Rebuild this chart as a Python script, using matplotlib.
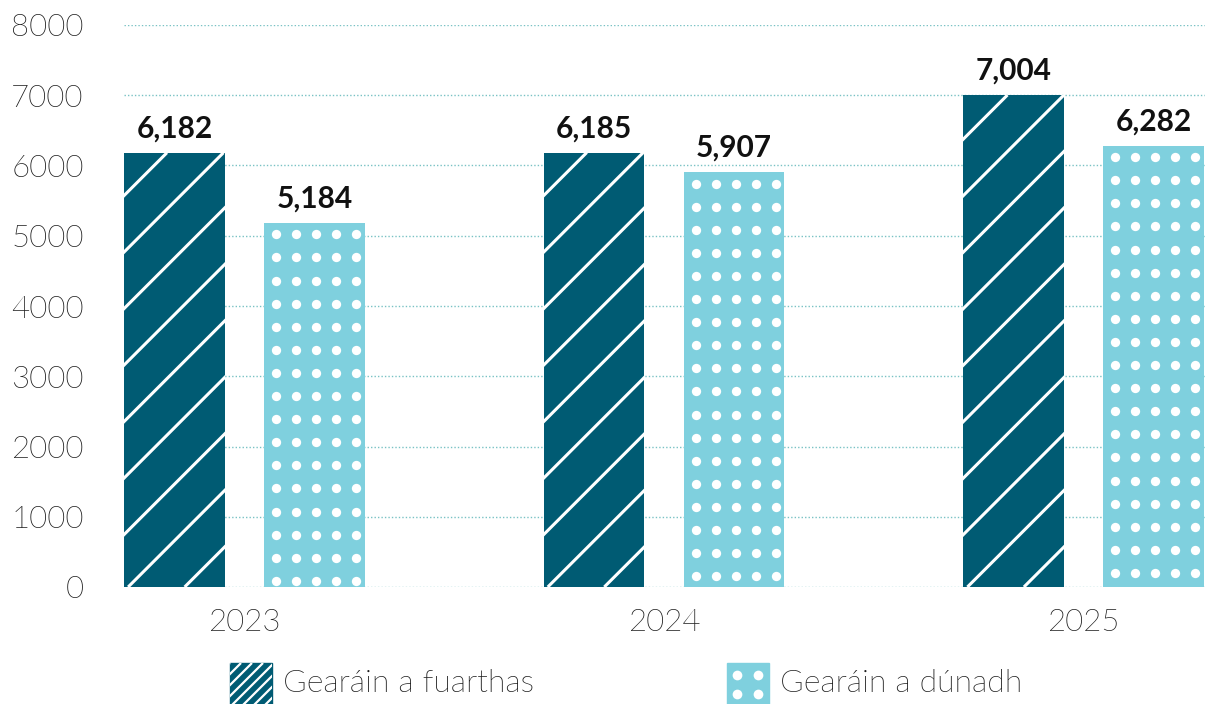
import numpy as np
import matplotlib
matplotlib.use("Agg")
import matplotlib.pyplot as plt
from matplotlib import font_manager as fm
from matplotlib.patches import Rectangle
from matplotlib.lines import Line2D

# ---- data ----
years = ["2023", "2024", "2025"]
received = [6182, 6185, 7004]
closed = [5184, 5907, 6282]
series_labels = ["Gearáin a fuarthas", "Gearáin a dúnadh"]
yticks = [0, 1000, 2000, 3000, 4000, 5000, 6000, 7000, 8000]

DARK = "#005b73"
LIGHT = "#7fd0de"
GRID = "#79c2c4"
TXT = "#1c1c1c"

# pick Lato Light file explicitly if available
light_fp = None
for f in fm.fontManager.ttflist:
    fn = f.fname.lower()
    if f.name == "Lato" and "light" in fn and "italic" not in fn and "hair" not in fn and "thin" not in fn:
        light_fp = fm.FontProperties(fname=f.fname)
        break
if light_fp is None:
    light_fp = fm.FontProperties(family="Lato", weight="normal")

W, H = 1219, 704
DPI = 100
fig = plt.figure(figsize=(W / DPI, H / DPI), dpi=DPI)
plt.rcParams["font.family"] = ["Lato", "DejaVu Sans"]

ax_l, ax_r, ax_b, ax_t = 124, 1205, 587, 25  # image pixel coords
ax = fig.add_axes([ax_l / W, 1 - ax_b / H, (ax_r - ax_l) / W, (ax_b - ax_t) / H])

x = np.arange(len(years))
bw = 0.24
off = 1 / 6
ax.set_xlim(-0.287, len(years) - 1 + 0.289)
ax.set_ylim(0, 8000)

ax.set_yticks(yticks)
ax.set_yticklabels([str(v) for v in yticks])
ax.set_xticks(x)
ax.set_xticklabels(years)
for lab in ax.get_yticklabels() + ax.get_xticklabels():
    lab.set_fontproperties(light_fp)
    lab.set_fontsize(22.5)
    lab.set_color(TXT)
ax.tick_params(axis="both", length=0)
ax.tick_params(axis="y", pad=29)
ax.tick_params(axis="x", pad=15)
for s in ax.spines.values():
    s.set_visible(False)
ax.yaxis.grid(True, color=GRID, linestyle=(0, (1, 1.5)), linewidth=1.0)
ax.set_axisbelow(True)

bars_r = ax.bar(x - off, received, bw, color=DARK, zorder=2)
bars_c = ax.bar(x + off, closed, bw, color=LIGHT, zorder=2)

for bars, vals in ((bars_r, received), (bars_c, closed)):
    for b, v in zip(bars, vals):
        ax.annotate(f"{v:,}", (b.get_x() + b.get_width() / 2, v),
                    xytext=(0, 11), textcoords="offset points",
                    ha="center", va="baseline", fontsize=21.5,
                    fontweight="bold", color="#111111")

inv = ax.transData.inverted()


def disp_bbox(b):
    p0 = ax.transData.transform((b.get_x(), 0))
    p1 = ax.transData.transform((b.get_x() + b.get_width(), b.get_height()))
    return p0[0], p1[0], p0[1], p1[1]


# diagonal hatch on dark bars
sp = 56.5
for b in bars_r:
    x0, x1, y0, y1 = disp_bbox(b)
    h = y1 - y0
    k0 = -int(np.ceil(h / sp)) - 1
    k1 = int(np.ceil((x1 - x0) / sp)) + 1
    for k in range(k0, k1):
        c = x0 + 4 + k * sp
        pts = inv.transform([(c, y0), (c + h, y0 + h)])
        ln, = ax.plot(pts[:, 0], pts[:, 1], color="white", lw=2.2,
                      solid_capstyle="butt", zorder=3)
        ln.set_clip_path(b)

# dot pattern on light bars
for b in bars_c:
    x0, x1, y0, y1 = disp_bbox(b)
    xs = x0 + 12 + 20 * np.arange(5)
    ys = []
    yy = y1 - 11.5
    while yy > y0 + 3:
        ys.append(yy)
        yy -= 23.1
    gx, gy = np.meshgrid(xs, ys)
    pts = inv.transform(np.column_stack([gx.ravel(), gy.ravel()]))
    sc = ax.scatter(pts[:, 0], pts[:, 1], s=45, color="white",
                    linewidths=0, zorder=3)
    sc.set_clip_path(b)

# ---- legend (manual, figure pixel coords) ----
def fx(px):
    return px / W


def fy(py):
    return 1 - py / H


box = 42
lx0, ly_top = 230, 663
r1 = Rectangle((fx(lx0), fy(ly_top + box)), box / W, box / H,
               transform=fig.transFigure, color=DARK, zorder=5)
fig.patches.append(r1)
lsp = 11.0
for k in range(-5, 6):
    c = lx0 + 2 + k * lsp
    l = Line2D([fx(c), fx(c + box)], [fy(ly_top + box), fy(ly_top)],
               transform=fig.transFigure, color="white", lw=1.6,
               solid_capstyle="butt", zorder=6)
    l.set_clip_path(r1)
    fig.lines.append(l)
t1 = fig.text(fx(283), fy(684), series_labels[0], color=TXT, ha="left", va="center",
              fontproperties=light_fp)
t1.set_fontsize(23)

lx1 = 727
r2 = Rectangle((fx(lx1), fy(ly_top + box)), box / W, box / H,
               transform=fig.transFigure, color=LIGHT, zorder=5)
fig.patches.append(r2)
dx = [lx1 + 10, lx1 + 31]
dy = [675, 694]
for px in dx:
    for py in dy:
        d = Line2D([fx(px)], [fy(py)], transform=fig.transFigure,
                   marker="o", markersize=7, markerfacecolor="white",
                   markeredgewidth=0, linestyle="none", zorder=6)
        d.set_clip_path(r2)
        fig.lines.append(d)
t2 = fig.text(fx(780), fy(684), series_labels[1], color=TXT, ha="left", va="center",
              fontproperties=light_fp)
t2.set_fontsize(23)

fig.savefig("out.png", dpi=DPI)
